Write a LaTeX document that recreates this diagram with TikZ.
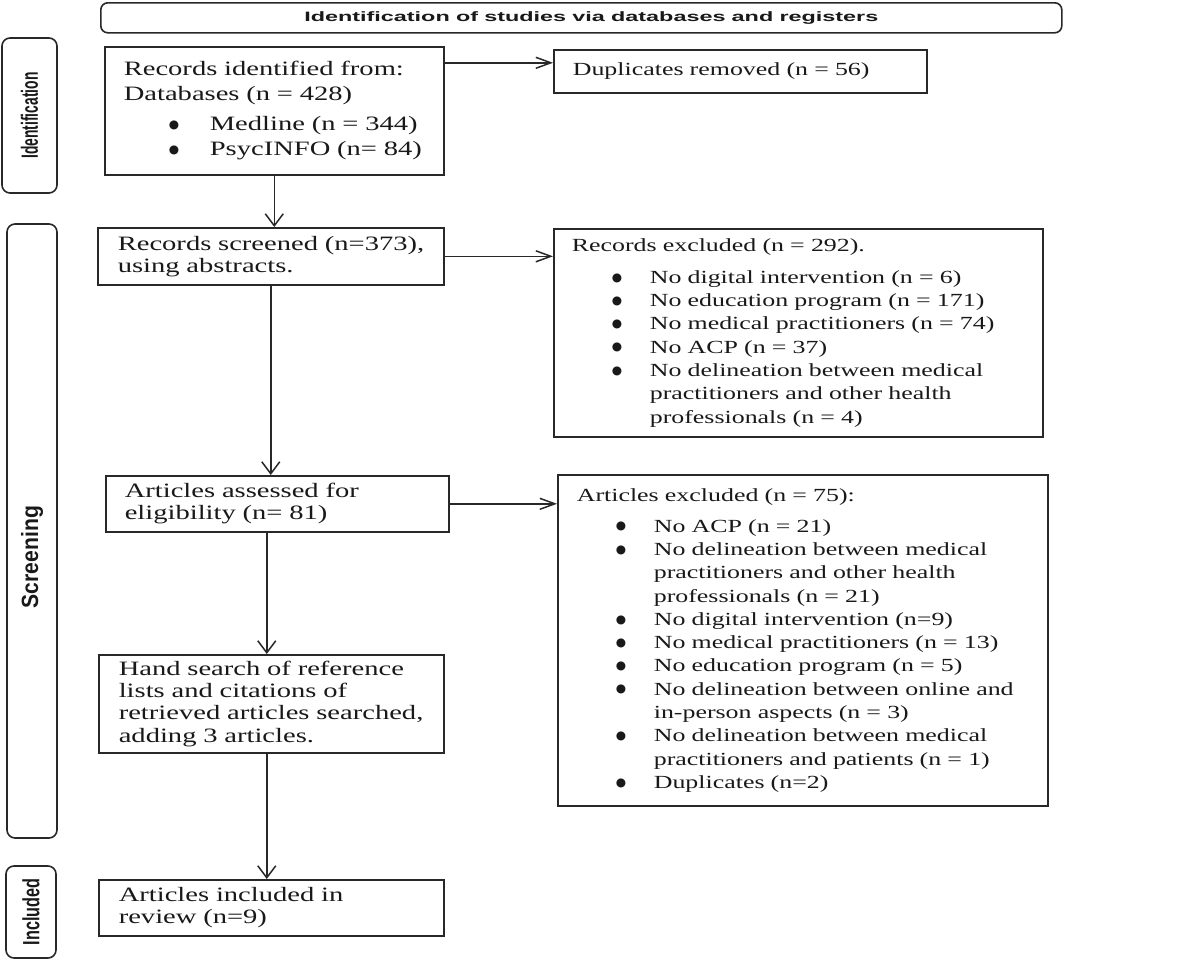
\documentclass[tikz,border=0pt]{standalone}
\usepackage{fontspec}
\setmainfont{Liberation Serif}[FakeStretch=1.4]
\newfontfamily\hdrfont{Liberation Sans}[FakeStretch=1.72]
\newfontfamily\sideIfont{Liberation Sans}[FakeStretch=0.59]
\newfontfamily\sideSfont{Liberation Sans}[FakeStretch=0.9]
\newfontfamily\sideNfont{Liberation Sans}[FakeStretch=0.69]
\newfontfamily\dotfont{DejaVu Sans}
\usetikzlibrary{arrows.meta}
\definecolor{linec}{RGB}{40,40,40}
\definecolor{txtc}{RGB}{25,25,25}
\newcommand{\bigtxt}{\fontsize{20.4}{22.3}\selectfont\spaceskip=7.1pt plus 1pt minus 1pt\relax}
\newcommand{\smtxt}{\fontsize{18.5}{23.3}\selectfont\spaceskip=6.5pt plus 1pt minus 1pt\relax}
\newcommand{\ridtxt}{\fontsize{20.4}{25}\selectfont\spaceskip=7.1pt plus 1pt minus 1pt\relax}
\newcommand{\hdrtxt}{\hdrfont\bfseries\fontsize{13.6}{16}\selectfont\spaceskip=6.2pt plus 1pt minus 1pt\relax}
\newcommand{\bdot}{\raisebox{2.3pt}{\dotfont\fontsize{11.8}{11.8}\selectfont ●}}
\newcommand{\bitA}[1]{\mbox{\hspace*{45pt}\makebox[41pt][l]{\bdot}#1}}
\newcommand{\bitB}[1]{\mbox{\hspace*{40pt}\makebox[38pt][l]{\bdot}#1}}
\newcommand{\bconB}[1]{\mbox{\hspace*{78pt}#1}}
\newcommand{\bitC}[1]{\mbox{\hspace*{39pt}\makebox[38pt][l]{\bdot}#1}}
\newcommand{\bconC}[1]{\mbox{\hspace*{77pt}#1}}
\begin{document}
\begin{tikzpicture}[x=1pt,y=-1pt,
  box/.style={draw=linec, line width=1.6pt, inner ysep=0pt, align=left, anchor=north west, text=txtc},
  side/.style={draw=linec, line width=1.6pt, rounded corners=8pt, rotate=90, inner sep=0pt, text=txtc},
  harr/.style={draw=linec, line width=1.5pt, -{Straight Barb[length=15pt,width=11pt,line width=1.5pt]}},
  varr/.style={draw=linec, line width=1.5pt, -{Straight Barb[length=12pt,width=18pt,line width=1.5pt]}}]
\useasboundingbox (0,0) rectangle (1200,959);
\fill[white] (0,0) rectangle (1200,959);

% header
\node[draw=linec, line width=1.6pt, rounded corners=7pt, anchor=north west, minimum width=961pt, minimum height=30pt, inner sep=0pt, text=txtc, font=\hdrtxt] (hdr) at (100,2)
  {\hspace*{20pt}Identification of studies via databases and registers};

% side labels
\node[side, minimum width=155pt, minimum height=55pt, font=\sideIfont\bfseries\fontsize{23.5}{26}\selectfont] (idl) at (29.5,115.5)
  {Identification};
\node[side, minimum width=614pt, minimum height=50pt, font=\sideSfont\bfseries\fontsize{23.5}{26}\selectfont] (scl) at (32,531)
  {Screening\hspace*{52pt}};
\node[side, minimum width=92pt, minimum height=50pt, font=\sideNfont\bfseries\fontsize{23.5}{26}\selectfont] (inl) at (31,912)
  {Included};

% main boxes
\node[box, font=\ridtxt, inner xsep=19pt, text width=301pt, minimum height=128pt] (rid) at (104,46)
  {\mbox{Records identified from:}\\
   \mbox{Databases (n = 428)}\\[5pt]
   \bitA{Medline (n = 344)}\\
   \bitA{PsycINFO (n= 84)}};

\node[box, font=\smtxt, inner xsep=19pt, text width=335pt, minimum height=43pt] (dup) at (553,49)
  {\mbox{Duplicates removed (n = 56)}};

\node[box, font=\bigtxt, inner xsep=20pt, text width=306pt, minimum height=57pt] (rsc) at (97,227)
  {\mbox{Records screened (n=373),}\\ \mbox{using abstracts.}};

\node[box, font=\smtxt, inner xsep=18pt, text width=453pt, minimum height=208pt] (rex) at (553,228)
  {\mbox{Records excluded (n = 292).}\\[8.7pt]
   \bitB{No digital intervention (n = 6)}\\
   \bitB{No education program (n = 171)}\\
   \bitB{No medical practitioners (n = 74)}\\
   \bitB{No ACP (n = 37)}\\
   \bitB{No delineation between medical}\\
   \bconB{practitioners and other health}\\
   \bconB{professionals (n = 4)}};

\node[box, font=\bigtxt, inner xsep=19pt, text width=305pt, minimum height=56pt] (aas) at (105,475)
  {\mbox{Articles assessed for}\\ \mbox{eligibility (n= 81)}};

\node[box, font=\smtxt, inner xsep=19pt, text width=452pt, minimum height=331pt] (aex) at (557,474)
  {\mbox{Articles excluded (n = 75):}\\[7.7pt]
   \bitC{No ACP (n = 21)}\\
   \bitC{No delineation between medical}\\
   \bconC{practitioners and other health}\\
   \bconC{professionals (n = 21)}\\
   \bitC{No digital intervention (n=9)}\\
   \bitC{No medical practitioners (n = 13)}\\
   \bitC{No education program (n = 5)}\\
   \bitC{No delineation between online and}\\
   \bconC{in-person aspects (n = 3)}\\
   \bitC{No delineation between medical}\\
   \bconC{practitioners and patients (n = 1)}\\
   \bitC{Duplicates (n=2)}};

\node[box, font=\bigtxt, inner xsep=20pt, text width=305pt, minimum height=98pt] (hnd) at (98,654)
  {\mbox{Hand search of reference}\\
   \mbox{lists and citations of}\\
   \mbox{retrieved articles searched,}\\
   \mbox{adding 3 articles.}};

\node[box, font=\bigtxt, inner xsep=20pt, text width=305pt, minimum height=56pt] (inc) at (98,879)
  {\mbox{Articles included in}\\ \mbox{review (n=9)}};

% connectors
\coordinate (d1) at ([yshift=8.5pt]dup.west);
\draw[harr] (d1 -| rid.east) -- (d1);
\draw[varr] (rid.south) -- (rid.south |- rsc.north);
\draw[harr] (rsc.east) -- (rsc.east -| rex.west);
\draw[varr] (rsc.south) -- (rsc.south |- aas.north);
\draw[harr] (aas.east) -- (aas.east -| aex.west);
\coordinate (c1) at ([xshift=-10.5pt]aas.south);
\draw[varr] (c1) -- (c1 |- hnd.north);
\coordinate (c2) at ([xshift=-4.5pt]hnd.south);
\draw[varr] (c2) -- (c2 |- inc.north);
\end{tikzpicture}
\end{document}
